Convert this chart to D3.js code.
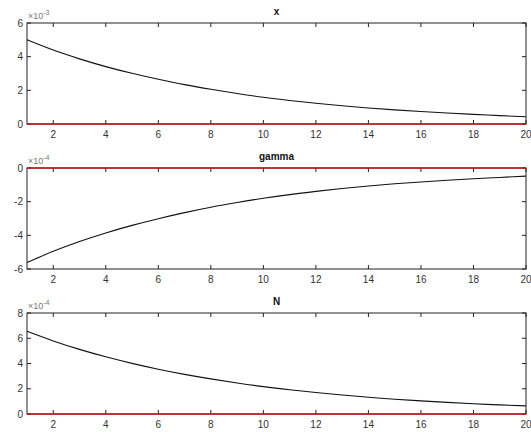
<!DOCTYPE html>
<html>
<head>
<meta charset="utf-8">
<script src="https://cdn.jsdelivr.net/npm/d3@7"></script>
<style>
  html, body { margin: 0; padding: 0; background: #fff; }
  svg { display: block; }
  text { font-family: "Liberation Sans", Arial, sans-serif; }
</style>
</head>
<body>
<script>
// Iteration index shared by all three panels
const steps = d3.range(1, 21);

// Deviation paths (scaled by the exponent shown above each y axis)
const xValues = [5.00, 4.39, 3.87, 3.41, 3.01, 2.66, 2.34, 2.06, 1.81, 1.59,
                 1.40, 1.23, 1.08, 0.95, 0.84, 0.74, 0.65, 0.57, 0.50, 0.43];
const gammaValues = [-5.62, -4.95, -4.37, -3.86, -3.41, -3.01, -2.65, -2.33, -2.05, -1.80,
                     -1.58, -1.39, -1.22, -1.07, -0.94, -0.83, -0.73, -0.64, -0.56, -0.48];
const nValues = [6.55, 5.79, 5.12, 4.53, 4.01, 3.55, 3.14, 2.78, 2.46, 2.17,
                 1.92, 1.70, 1.50, 1.33, 1.17, 1.04, 0.92, 0.81, 0.72, 0.64];

// Steady state reference (zero deviation)
const zeroValues = steps.map(() => 0);

const titles = ["x", "gamma", "N"];
const exponents = ["-3", "-4", "-4"];
const yDomains = [[0, 6], [-6, 0], [0, 8]];
const yTicks = [[0, 2, 4, 6], [-6, -4, -2, 0], [0, 2, 4, 6, 8]];
const xTicks = [2, 4, 6, 8, 10, 12, 14, 16, 18, 20];
const series = [xValues, gammaValues, nValues];

const W = 531, H = 432;
const left = 27, right = 526;
const panelTops = [23, 168, 313];
const panelH = 101;

const svg = d3.select("body").append("svg").attr("width", W).attr("height", H);

const x = d3.scaleLinear().domain([1, 20]).range([left, right]);

panelTops.forEach((top, i) => {
  const y = d3.scaleLinear().domain(yDomains[i]).range([top + panelH, top]);
  const g = svg.append("g");

  // frame
  g.append("rect")
    .attr("x", left).attr("y", top)
    .attr("width", right - left).attr("height", panelH)
    .attr("fill", "none").attr("stroke", "#222").attr("stroke-width", 1);

  // inward ticks on all four sides
  const tl = 4;
  g.selectAll(".xt").data(xTicks).enter().append("line")
    .attr("x1", d => x(d)).attr("x2", d => x(d))
    .attr("y1", top + panelH).attr("y2", top + panelH - tl)
    .attr("stroke", "#222");
  g.selectAll(".xtt").data(xTicks).enter().append("line")
    .attr("x1", d => x(d)).attr("x2", d => x(d))
    .attr("y1", top).attr("y2", top + tl)
    .attr("stroke", "#222");
  g.selectAll(".yt").data(yTicks[i]).enter().append("line")
    .attr("x1", left).attr("x2", left + tl)
    .attr("y1", d => y(d)).attr("y2", d => y(d))
    .attr("stroke", "#222");
  g.selectAll(".ytr").data(yTicks[i]).enter().append("line")
    .attr("x1", right).attr("x2", right - tl)
    .attr("y1", d => y(d)).attr("y2", d => y(d))
    .attr("stroke", "#222");

  // tick labels
  g.selectAll(".xl").data(xTicks).enter().append("text")
    .attr("x", d => x(d)).attr("y", top + panelH + 14)
    .attr("text-anchor", "middle").attr("font-size", 10).attr("fill", "#333")
    .text(d => d);
  g.selectAll(".yl").data(yTicks[i]).enter().append("text")
    .attr("x", left - 4).attr("y", d => y(d) + 3.5)
    .attr("text-anchor", "end").attr("font-size", 10).attr("fill", "#333")
    .text(d => d);

  // exponent label
  const ex = g.append("text")
    .attr("x", left + 1).attr("y", top - 4)
    .attr("font-size", 9).attr("fill", "#777");
  ex.append("tspan").text("\u00d710");
  ex.append("tspan").attr("dy", -4).attr("font-size", 7).text(exponents[i]);

  // title
  g.append("text")
    .attr("x", (left + right) / 2).attr("y", top - 8)
    .attr("text-anchor", "middle").attr("font-size", 10).attr("font-weight", "bold")
    .attr("fill", "#111")
    .text(titles[i]);

  const line = d3.line().x((d, k) => x(steps[k])).y(d => y(d));

  // steady state line
  g.append("path").datum(zeroValues)
    .attr("d", line).attr("fill", "none")
    .attr("stroke", "#c41a1a").attr("stroke-width", 1.6);

  // deviation path
  g.append("path").datum(series[i])
    .attr("d", line.curve(d3.curveMonotoneX)).attr("fill", "none")
    .attr("stroke", "#111").attr("stroke-width", 1.1);
});
</script>
</body>
</html>
